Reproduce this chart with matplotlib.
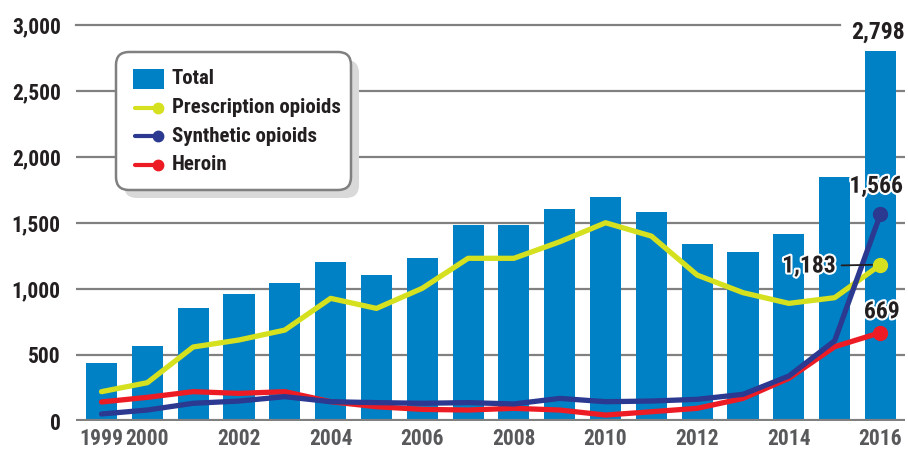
import matplotlib
matplotlib.use('Agg')
import matplotlib.pyplot as plt
import matplotlib.patheffects as pe
from matplotlib.patches import FancyBboxPatch, Rectangle
from matplotlib.lines import Line2D
import numpy as np

# data #######################################################################
years = np.arange(1999, 2017)
total = [439, 567, 855, 961, 1044, 1203, 1104, 1233, 1482, 1482,
         1604, 1694, 1581, 1339, 1276, 1412, 1846, 2798]
prescription = [222, 290, 560, 613, 688, 928, 852, 1004, 1231, 1231,
                1356, 1500, 1399, 1104, 971, 890, 933, 1183]
synthetic = [53, 83, 134, 151, 184, 146, 139, 134, 139, 129,
             171, 146, 151, 164, 202, 340, 607, 1566]
heroin = [144, 179, 222, 209, 222, 146, 108, 88, 83, 96,
          83, 45, 70, 96, 171, 323, 562, 669]
xtick_years = [1999, 2000, 2002, 2004, 2006, 2008, 2010, 2012, 2014, 2016]
yticks = [0, 500, 1000, 1500, 2000, 2500, 3000]

BLUE = '#0081C6'
YELLOW = '#D5E01F'
NAVY = '#2B3990'
RED = '#ED1C24'
GRID = '#808080'
DARK = '#231F20'

plt.rcParams['font.family'] = ['Roboto Condensed', 'Liberation Sans', 'DejaVu Sans']
plt.rcParams['font.weight'] = 'bold'

W, H = 908, 451
fig = plt.figure(figsize=(W / 100, H / 100), dpi=100)
ax = fig.add_axes([76 / W, (H - 421) / H, (905 - 76) / W, (421 - 24.5) / H])

# gridlines behind bars (top one stops short of the 2,798 label)
for v in yticks[1:-1]:
    ax.axhline(v, color=GRID, lw=1.6, zorder=0)
ax.axhline(yticks[-1], xmax=0.922, color=GRID, lw=1.6, zorder=0, clip_on=False)

ax.bar(years, total, width=0.68, color=BLUE, zorder=1)
ax.axhline(0, color=GRID, lw=3, zorder=2)

ax.plot(years, prescription, color=YELLOW, lw=3.8, zorder=3, solid_capstyle='round')
ax.plot(years, heroin, color=RED, lw=3.8, zorder=4, solid_capstyle='round')
ax.plot(years, synthetic, color=NAVY, lw=3.8, zorder=5, solid_capstyle='round')
ax.plot(years[-1], prescription[-1], 'o', color=YELLOW, ms=10, zorder=6)
ax.plot(years[-1], heroin[-1], 'o', color=RED, ms=10, zorder=6)
ax.plot(years[-1], synthetic[-1], 'o', color=NAVY, ms=10, zorder=6)

ax.set_xlim(1999 - 0.557, 2016 + 0.535)
ax.set_ylim(0, 3000)
ax.set_yticks(yticks)
ax.set_yticklabels([f'{v:,}' for v in yticks], fontsize=15.5, color=DARK, fontweight='bold')
ax.set_xticks(xtick_years)
ax.set_xticklabels([str(y) for y in xtick_years], fontsize=15.5, color='#58595B', fontweight='bold')
ax.tick_params(axis='both', length=0)
ax.tick_params(axis='y', pad=11)
ax.tick_params(axis='x', pad=5)
for s in ax.spines.values():
    s.set_visible(False)

# value labels
stroke = [pe.withStroke(linewidth=3, foreground='white')]
ax.annotate(f'{total[-1]:,}', (years[-1], total[-1]), xytext=(-2, 14),
            textcoords='offset points', ha='center', va='center', fontsize=17,
            fontweight='bold', color=DARK, zorder=7)
ax.annotate(f'{synthetic[-1]:,}', (years[-1], synthetic[-1]), xytext=(-3, 20),
            textcoords='offset points', ha='center', va='center', fontsize=17,
            fontweight='bold', color=DARK, zorder=7, path_effects=stroke)
ax.annotate(f'{heroin[-1]:,}', (years[-1], heroin[-1]), xytext=(1, 15),
            textcoords='offset points', ha='center', va='center', fontsize=17,
            fontweight='bold', color=DARK, zorder=7, path_effects=stroke)
ax.annotate(f'{prescription[-1]:,}', (years[-1], prescription[-1]), xytext=(-32, -1),
            textcoords='offset points', ha='right', va='center', fontsize=17,
            fontweight='bold', color=DARK, zorder=7, path_effects=stroke,
            arrowprops=dict(arrowstyle='-', color=DARK, lw=1.3, shrinkA=2, shrinkB=6))

# legend drawn by hand in pixel coordinates
lg = fig.add_axes([0, 0, 1, 1], zorder=10)
lg.set_xlim(0, W)
lg.set_ylim(H, 0)
lg.axis('off')
lg.add_patch(FancyBboxPatch((124, 60), 235, 138, boxstyle='round,pad=0,rounding_size=13',
                            facecolor='#D9D9DA', edgecolor='none'))
lg.add_patch(FancyBboxPatch((116, 52), 235, 138, boxstyle='round,pad=0,rounding_size=13',
                            facecolor='white', edgecolor=GRID, lw=1.8))
lg.add_patch(Rectangle((133, 69), 31, 20, facecolor=BLUE, edgecolor='none'))
labels = ['Total', 'Prescription opioids', 'Synthetic opioids', 'Heroin']
ys = [79, 107.5, 136, 165]
for col, yy in zip([YELLOW, NAVY, RED], ys[1:]):
    lg.add_line(Line2D([135, 158], [yy, yy], color=col, lw=3, solid_capstyle='round'))
    lg.plot(158, yy, 'o', color=col, ms=7.5)
for lab, yy in zip(labels, ys):
    lg.text(172, yy, lab, fontsize=15, fontweight='bold', color=DARK, va='center', ha='left')

fig.savefig('out.png', dpi=100)
